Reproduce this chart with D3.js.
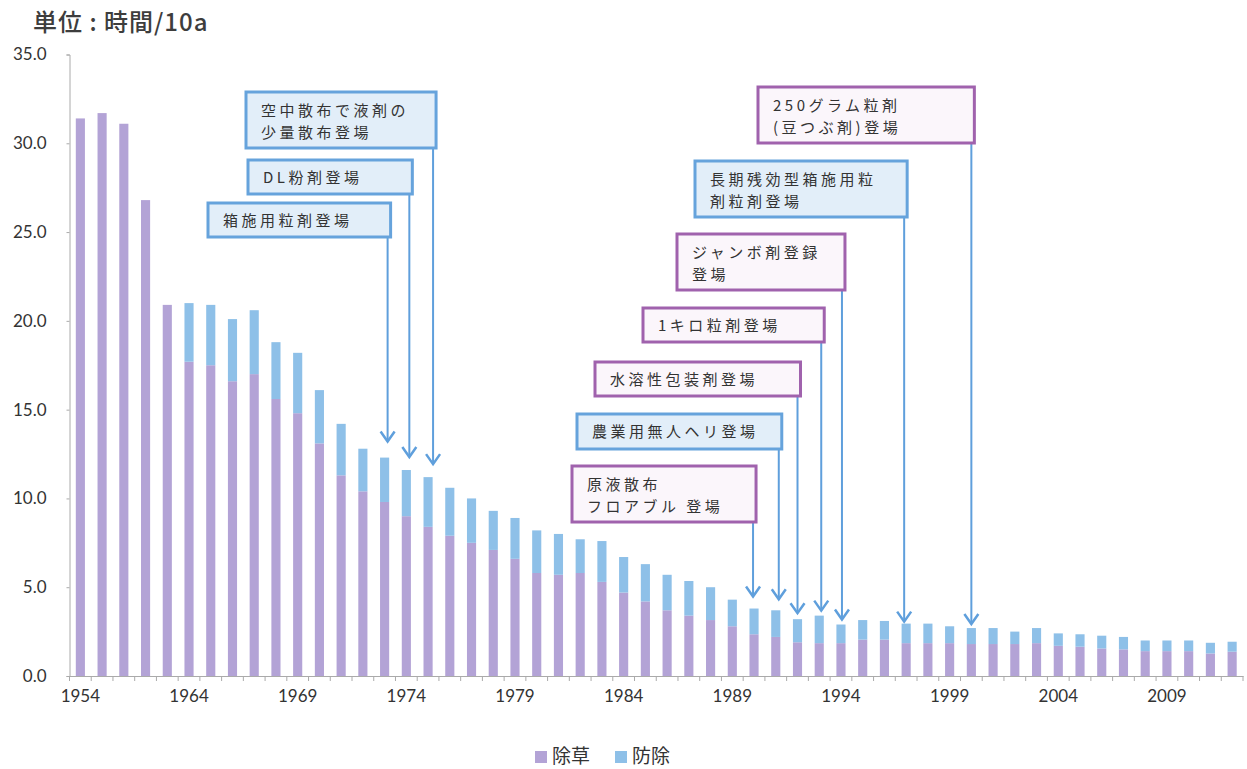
<!DOCTYPE html>
<html>
<head>
<meta charset="utf-8">
<script src="https://cdn.jsdelivr.net/npm/d3@7"></script>
<style>
  body { margin: 0; background: #fff; }
  svg { display: block; }
  text { font-family: Lato, "Noto Sans CJK JP", sans-serif; fill: #333; }
  .jp { font-family: "Noto Sans CJK JP", sans-serif; }
</style>
</head>
<body>
<svg></svg>
<script>
// years on the category axis (early years every other year)
const years = [1954, 1956, 1958, 1960, 1962,
  1964, 1965, 1966, 1967, 1968, 1969, 1970, 1971, 1972, 1973,
  1974, 1975, 1976, 1977, 1978, 1979, 1980, 1981, 1982, 1983,
  1984, 1985, 1986, 1987, 1988, 1989, 1990, 1991, 1992, 1993,
  1994, 1995, 1996, 1997, 1998, 1999, 2000, 2001, 2002, 2003,
  2004, 2005, 2006, 2007, 2008, 2009, 2010, 2011, 2012];

// 除草 (hours / 10a)
const weeding = [31.4, 31.7, 31.1, 26.8, 20.9,
  17.7, 17.5, 16.6, 17.0, 15.6, 14.8, 13.1, 11.3, 10.4, 9.8,
  9.0, 8.4, 7.9, 7.5, 7.1, 6.6, 5.8, 5.7, 5.8, 5.3,
  4.7, 4.2, 3.7, 3.4, 3.15, 2.8, 2.35, 2.2, 1.9, 1.85,
  1.85, 2.05, 2.05, 1.85, 1.85, 1.85, 1.8, 1.8, 1.8, 1.85,
  1.7, 1.65, 1.55, 1.5, 1.4, 1.4, 1.4, 1.27, 1.37];

// 防除 (hours / 10a)
const control = [0, 0, 0, 0, 0,
  3.3, 3.4, 3.5, 3.6, 3.2, 3.4, 3.0, 2.9, 2.4, 2.5,
  2.6, 2.8, 2.7, 2.5, 2.2, 2.3, 2.4, 2.3, 1.9, 2.3,
  2.0, 2.1, 2.0, 1.95, 1.85, 1.5, 1.45, 1.5, 1.3, 1.55,
  1.05, 1.1, 1.05, 1.1, 1.1, 0.95, 0.9, 0.9, 0.7, 0.85,
  0.7, 0.7, 0.72, 0.7, 0.6, 0.6, 0.6, 0.6, 0.56];

const yTicks = [0, 5, 10, 15, 20, 25, 30, 35];
const seriesNames = ['除草', '防除'];

// annotations: text lines, year pointed at, box style
const noteLines = [
  ['空中散布で液剤の', '少量散布登場'],
  ['DL粉剤登場'],
  ['箱施用粒剤登場'],
  ['原液散布', 'フロアブル 登場'],
  ['農業用無人ヘリ登場'],
  ['水溶性包装剤登場'],
  ['1キロ粒剤登場'],
  ['ジャンボ剤登録', '登場'],
  ['長期残効型箱施用粒', '剤粒剤登場'],
  ['250グラム粒剤', '(豆つぶ剤)登場'],
];
const noteYears = [1975, 1974, 1973, 1990, 1991, 1992, 1993, 1994, 1997, 2000];
const noteKinds = ['blue', 'blue', 'blue', 'purple', 'blue', 'purple', 'purple', 'purple', 'blue', 'purple'];

// box placement (layout only): left, top, height, arrow nudge, gap above bar
const noteLayout = [
  { left: 246, top: 92, h: 56, dx: 5, gap: 13 },
  { left: 248, top: 160, h: 34, dx: 3, gap: 13 },
  { left: 208, top: 203, h: 34, dx: 3, gap: 16 },
  { left: 572, top: 466, h: 56, dx: -1, gap: 12 },
  { left: 577, top: 414, h: 35, dx: 3, gap: 11 },
  { left: 595, top: 362, h: 34, dx: 0, gap: 6 },
  { left: 643, top: 308, h: 34, dx: 2, gap: 5 },
  { left: 677, top: 234, h: 56, dx: 1, gap: 5 },
  { left: 695, top: 161, h: 56, dx: -2, gap: 2 },
  { left: 758, top: 87, h: 56, dx: 0, gap: 4 },
];

const colors = { weed: '#b3a3d6', ctrl: '#8ec0e8' };
const boxStyle = {
  blue: { stroke: '#66a3dc', fill: '#e2eef9' },
  purple: { stroke: '#a062ad', fill: '#fbf6fb' },
};
const arrowColor = '#5f9fdc';

const width = 1247;
const height = 769;

const svg = d3.select('svg')
  .attr('width', width)
  .attr('height', height);

const data = years.map((y, i) => ({ year: String(y), weed: weeding[i], ctrl: control[i] }));
const stacked = d3.stack().keys(['weed', 'ctrl'])(data);

const x = d3.scaleBand()
  .domain(data.map((d) => d.year))
  .range([69.5, 1243])
  .paddingInner(0.58)
  .paddingOuter(0.29);

const y = d3.scaleLinear()
  .domain([0, 35])
  .range([676, 54.5]);

// title
svg.append('text')
  .attr('class', 'jp')
  .attr('x', 33)
  .attr('y', 31)
  .style('font-size', '24px')
  .style('font-weight', 500)
  .style('letter-spacing', '1px')
  .style('fill', '#3d3d3d')
  .text('単位 : 時間/10a');

// y axis
const yAxis = svg.append('g')
  .attr('transform', 'translate(69.5,0)')
  .call(d3.axisLeft(y).tickValues(yTicks).tickFormat(d3.format('.1f')).tickSize(3).tickPadding(20));
yAxis.select('.domain').attr('stroke', '#aaa');
yAxis.selectAll('.tick line').attr('stroke', '#aaa');
yAxis.selectAll('.tick text').style('font-size', '17px').style('fill', '#333');

// bars
svg.append('g')
  .selectAll('g')
  .data(stacked)
  .enter()
  .append('g')
    .attr('fill', (s) => s.key === 'weed' ? colors.weed : colors.ctrl)
  .selectAll('rect')
  .data((s) => s)
  .enter()
  .append('rect')
    .attr('x', (d) => x(d.data.year))
    .attr('y', (d) => y(d[1]))
    .attr('width', x.bandwidth())
    .attr('height', (d) => y(d[0]) - y(d[1]));

// x axis: labels every fifth category, ticks between categories
const xAxis = svg.append('g')
  .attr('transform', 'translate(0,676)')
  .call(d3.axisBottom(x)
    .tickValues(data.filter((d, i) => i % 5 === 0).map((d) => d.year))
    .tickSize(0)
    .tickPadding(14));
xAxis.select('.domain').attr('stroke', '#aaa');
xAxis.selectAll('.tick text').style('font-size', '17px').style('fill', '#333');

const half = (x.step() - x.bandwidth()) / 2;
const lastEdge = x(data[data.length - 1].year) + x.bandwidth() + half;
xAxis.selectAll('line.between')
  .data(data.map((d) => x(d.year) - half).concat([lastEdge]))
  .enter()
  .append('line')
    .attr('class', 'between')
    .attr('x1', (d) => d)
    .attr('x2', (d) => d)
    .attr('y1', 0)
    .attr('y2', 5)
    .attr('stroke', '#aaa');

// annotation boxes and arrows
const notes = noteLines.map((lines, i) => {
  const d = data.find((e) => e.year === String(noteYears[i]));
  const ax = x(d.year) + x.bandwidth() / 2 + noteLayout[i].dx;
  return {
    lines: lines,
    kind: noteKinds[i],
    ax: ax,
    tip: y(d.weed + d.ctrl) - noteLayout[i].gap,
    left: noteLayout[i].left,
    top: noteLayout[i].top,
    h: noteLayout[i].h,
    right: ax + 3,
  };
});

const noteG = svg.append('g');

// arrow shafts
noteG.selectAll('line.shaft')
  .data(notes)
  .enter()
  .append('line')
    .attr('class', 'shaft')
    .attr('x1', (d) => d.ax)
    .attr('x2', (d) => d.ax)
    .attr('y1', (d) => d.top + d.h)
    .attr('y2', (d) => d.tip)
    .attr('stroke', arrowColor)
    .attr('stroke-width', 2);

// open arrow heads
noteG.selectAll('path.head')
  .data(notes)
  .enter()
  .append('path')
    .attr('class', 'head')
    .attr('d', (d) => `M${d.ax - 7},${d.tip - 10}L${d.ax},${d.tip}L${d.ax + 7},${d.tip - 10}`)
    .attr('fill', 'none')
    .attr('stroke', arrowColor)
    .attr('stroke-width', 2.5);

const box = noteG.selectAll('g.note')
  .data(notes)
  .enter()
  .append('g')
    .attr('class', 'note');

box.append('rect')
  .attr('x', (d) => d.left)
  .attr('y', (d) => d.top)
  .attr('width', (d) => d.right - d.left)
  .attr('height', (d) => d.h)
  .attr('fill', (d) => boxStyle[d.kind].fill)
  .attr('stroke', (d) => boxStyle[d.kind].stroke)
  .attr('stroke-width', 3);

// one text per box, lines as tspans
box.append('text')
  .attr('class', 'jp')
  .attr('y', (d) => d.lines.length === 1 ? d.top + d.h / 2 + 5.5 : d.top + 23.5)
  .style('font-size', '15px')
  .style('letter-spacing', '3.5px')
  .selectAll('tspan')
  .data((d) => d.lines.map((t) => ({ t: t, left: d.left })))
  .enter()
  .append('tspan')
    .attr('x', (d) => d.left + 15)
    .attr('dy', (d, j) => j === 0 ? 0 : 22)
    .text((d) => d.t);

// legend
const legend = svg.append('g')
  .attr('transform', 'translate(535,751)');

const legendItems = legend.selectAll('g')
  .data(seriesNames)
  .enter()
  .append('g')
    .attr('transform', (d, i) => `translate(${i * 80},0)`);

legendItems.append('rect')
  .attr('width', 12)
  .attr('height', 12)
  .attr('fill', (d, i) => i === 0 ? colors.weed : colors.ctrl);

legendItems.append('text')
  .attr('class', 'jp')
  .attr('x', 17)
  .attr('y', 12)
  .style('font-size', '19px')
  .text((d) => d);
</script>
</body>
</html>
